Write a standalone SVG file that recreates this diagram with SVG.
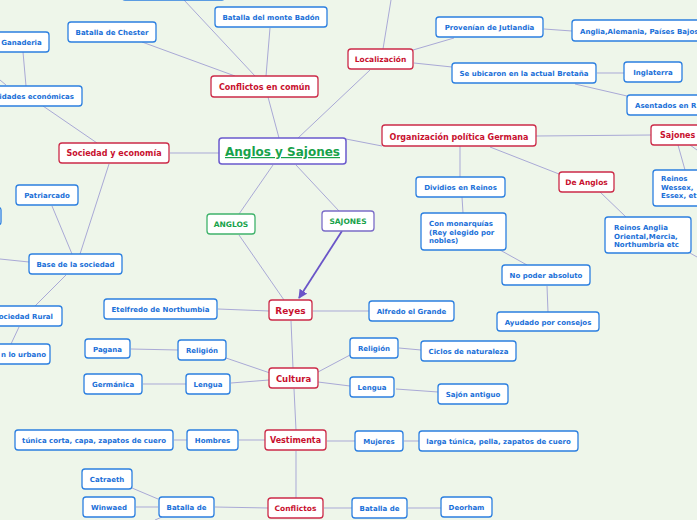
<svg xmlns="http://www.w3.org/2000/svg" width="697" height="520" viewBox="0 0 697 520">
<defs>
<style>
.bg{fill:#eef6ea}
.b rect{fill:#fff;stroke:#2b7fe0;stroke-width:1.3}
.r rect{fill:#fff;stroke:#cc2a48;stroke-width:1.3}
.b text{fill:#1a6fd8;font-family:"DejaVu Sans",Verdana,sans-serif;font-weight:bold;font-size:7px;text-anchor:middle}
.r text{fill:#c8102e;font-family:"DejaVu Sans",Verdana,sans-serif;font-weight:bold;font-size:8px;text-anchor:middle}
.g text{fill:#17a24a;font-family:"DejaVu Sans",Verdana,sans-serif;font-weight:bold;font-size:7.5px;text-anchor:middle}
.l{text-anchor:start !important}
.e{text-anchor:end !important}
#conn line{stroke:#a9a9d6;stroke-width:1;fill:none}
</style>
<marker id="arr" viewBox="0 0 10 10" refX="9" refY="5" markerWidth="5" markerHeight="5" orient="auto"><path d="M0,0 L10,5 L0,10 z" fill="#6a55c8"/></marker>
</defs>
<rect class="bg" x="0" y="0" width="697" height="520"/>
<g id="conn">
<line x1="184" y1="0" x2="255" y2="76"/>
<line x1="391" y1="0" x2="383" y2="49"/>
<line x1="270" y1="28" x2="266" y2="76"/>
<line x1="142" y1="42" x2="235" y2="76"/>
<line x1="268" y1="97" x2="279" y2="138"/>
<line x1="298" y1="138" x2="370" y2="70"/>
<line x1="23" y1="52" x2="26" y2="86"/>
<line x1="0" y1="80" x2="6" y2="85"/>
<line x1="43" y1="106" x2="97" y2="143"/>
<line x1="170" y1="153" x2="219" y2="153"/>
<line x1="52" y1="206" x2="72" y2="254"/>
<line x1="109" y1="164" x2="80" y2="254"/>
<line x1="0" y1="259" x2="29" y2="262"/>
<line x1="66" y1="275" x2="35" y2="306"/>
<line x1="19" y1="327" x2="11" y2="344"/>
<line x1="273" y1="165" x2="239" y2="214"/>
<line x1="296" y1="165" x2="339" y2="211"/>
<line x1="239" y1="235" x2="284" y2="300"/>
<line x1="218" y1="309" x2="269" y2="311"/>
<line x1="313" y1="311" x2="369" y2="311"/>
<line x1="291" y1="321" x2="293" y2="368"/>
<line x1="226" y1="358" x2="270" y2="373"/>
<line x1="131" y1="349" x2="178" y2="350"/>
<line x1="231" y1="383" x2="269" y2="380"/>
<line x1="186" y1="384" x2="143" y2="384"/>
<line x1="318" y1="372" x2="350" y2="355"/>
<line x1="399" y1="348" x2="421" y2="350"/>
<line x1="318" y1="382" x2="350" y2="386"/>
<line x1="396" y1="389" x2="438" y2="392"/>
<line x1="294" y1="389" x2="296" y2="430"/>
<line x1="265" y1="440" x2="239" y2="440"/>
<line x1="187" y1="440" x2="174" y2="440"/>
<line x1="327" y1="441" x2="355" y2="441"/>
<line x1="404" y1="441" x2="419" y2="441"/>
<line x1="296" y1="451" x2="296" y2="498"/>
<line x1="268" y1="508" x2="215" y2="507"/>
<line x1="158" y1="499" x2="132" y2="488"/>
<line x1="158" y1="507" x2="136" y2="507"/>
<line x1="162" y1="517" x2="155" y2="520"/>
<line x1="324" y1="508" x2="352" y2="508"/>
<line x1="408" y1="508" x2="441" y2="508"/>
<line x1="413" y1="50" x2="454" y2="38"/>
<line x1="544" y1="29" x2="572" y2="31"/>
<line x1="414" y1="63" x2="452" y2="67"/>
<line x1="597" y1="73" x2="624" y2="73"/>
<line x1="575" y1="84" x2="627" y2="96"/>
<line x1="346" y1="139" x2="382" y2="146"/>
<line x1="536" y1="136" x2="651" y2="135"/>
<line x1="678" y1="145" x2="685" y2="170"/>
<line x1="690" y1="145" x2="697" y2="150"/>
<line x1="460" y1="146" x2="460" y2="177"/>
<line x1="462" y1="197" x2="463" y2="213"/>
<line x1="500" y1="250" x2="527" y2="265"/>
<line x1="547" y1="286" x2="548" y2="312"/>
<line x1="490" y1="147" x2="559" y2="174"/>
<line x1="600" y1="192" x2="626" y2="217"/>
<line x1="690" y1="253" x2="697" y2="257"/>
<line x1="342" y1="231" x2="299" y2="298" style="stroke:#6a55c8;stroke-width:1.8" marker-end="url(#arr)"/>
</g>
<g id="center" class="g"><rect x="219" y="138" width="127" height="26" rx="3" fill="#fff" stroke="#6a5acd" stroke-width="1.5"/><text x="282.5" y="156" style="font-size:12px;text-decoration:underline">Anglos y Sajones</text></g>
<g id="conflictos-comun" class="r"><rect x="211" y="76" width="107" height="21" rx="3"/><text x="264.5" y="90">Conflictos en común</text></g>
<g id="badon" class="b"><rect x="215" y="7" width="112" height="20" rx="3"/><text x="271" y="20">Batalla del monte Badón</text></g>
<g id="chester" class="b"><rect x="68" y="22" width="88" height="20" rx="3"/><text x="112" y="35">Batalla de Chester</text></g>
<g id="top-offscreen" class="b"><rect x="122" y="-20" width="103" height="20" rx="3"/></g>
<g id="ganaderia" class="b"><rect x="-15" y="32" width="64" height="20" rx="3"/><text x="21.5" y="45">Ganaderia</text></g>
<g id="actividades" class="b"><rect x="-40" y="86" width="122" height="20" rx="3"/><text class="e" x="74" y="99">idades económicas</text></g>
<g id="sociedad" class="r"><rect x="59" y="143" width="110" height="20" rx="3"/><text x="114" y="156">Sociedad y economía</text></g>
<g id="patriarcado" class="b"><rect x="16" y="185" width="62" height="20" rx="3"/><text x="47" y="198">Patriarcado</text></g>
<g id="base" class="b"><rect x="29" y="254" width="93" height="20" rx="3"/><text x="75.5" y="267">Base de la sociedad</text></g>
<g id="left-box" class="b"><rect x="-40" y="207" width="41" height="18" rx="3"/></g>
<g id="sociedad-rural" class="b"><rect x="-30" y="306" width="92" height="20" rx="3"/><text class="e" x="53" y="319">ociedad Rural</text></g>
<g id="urbano" class="b"><rect x="-60" y="344" width="110" height="20" rx="3"/><text class="l" x="1" y="357">n lo urbano</text></g>
<g id="anglos" class="g"><rect x="207" y="214" width="48" height="20" rx="3" fill="#fff" stroke="#3fb36b" stroke-width="1.3"/><text x="231" y="227">ANGLOS</text></g>
<g id="sajones" class="g"><rect x="322" y="211" width="52" height="20" rx="3" fill="#fff" stroke="#7b6cc8" stroke-width="1.3"/><text x="348" y="224">SAJONES</text></g>
<g id="reyes" class="r"><rect x="269" y="300" width="43" height="20" rx="3"/><text x="290.5" y="313.5" style="font-size:9px">Reyes</text></g>
<g id="etelfredo" class="b"><rect x="104" y="299" width="113" height="20" rx="3"/><text x="160.5" y="312">Etelfredo de Northumbia</text></g>
<g id="alfredo" class="b"><rect x="369" y="301" width="85" height="20" rx="3"/><text x="411.5" y="314">Alfredo el Grande</text></g>
<g id="cultura" class="r"><rect x="269" y="368" width="49" height="20" rx="3"/><text x="293.5" y="381.5" style="font-size:8.5px">Cultura</text></g>
<g id="religion-l" class="b"><rect x="178" y="340" width="48" height="20" rx="3"/><text x="202" y="353">Religión</text></g>
<g id="pagana" class="b"><rect x="85" y="339" width="45" height="19" rx="3"/><text x="107.5" y="351.5">Pagana</text></g>
<g id="lengua-l" class="b"><rect x="186" y="374" width="44" height="20" rx="3"/><text x="208" y="387">Lengua</text></g>
<g id="germanica" class="b"><rect x="84" y="374" width="58" height="20" rx="3"/><text x="113" y="387">Germánica</text></g>
<g id="religion-r" class="b"><rect x="350" y="338" width="48" height="20" rx="3"/><text x="374" y="351">Religión</text></g>
<g id="ciclos" class="b"><rect x="421" y="341" width="95" height="20" rx="3"/><text x="468.5" y="354">Ciclos de naturaleza</text></g>
<g id="lengua-r" class="b"><rect x="350" y="377" width="44" height="20" rx="3"/><text x="372" y="390">Lengua</text></g>
<g id="sajon-antiguo" class="b"><rect x="438" y="384" width="70" height="20" rx="3"/><text x="473" y="397">Sajón antiguo</text></g>
<g id="vestimenta" class="r"><rect x="265" y="430" width="61" height="20" rx="3"/><text x="295.5" y="443">Vestimenta</text></g>
<g id="hombres" class="b"><rect x="187" y="430" width="51" height="20" rx="3"/><text x="212.5" y="443">Hombres</text></g>
<g id="tunica-corta" class="b"><rect x="15" y="430" width="158" height="20" rx="3"/><text x="94" y="443">túnica corta, capa, zapatos de cuero</text></g>
<g id="mujeres" class="b"><rect x="355" y="431" width="48" height="20" rx="3"/><text x="379" y="444">Mujeres</text></g>
<g id="larga-tunica" class="b"><rect x="419" y="431" width="159" height="20" rx="3"/><text x="498.5" y="444">larga túnica, pella, zapatos de cuero</text></g>
<g id="conflictos" class="r"><rect x="268" y="498" width="55" height="20" rx="3"/><text x="295.5" y="511" style="font-size:7.5px">Conflictos</text></g>
<g id="batalla-l" class="b"><rect x="159" y="497" width="55" height="20" rx="3"/><text x="186.5" y="510">Batalla de</text></g>
<g id="catraeth" class="b"><rect x="82" y="469" width="50" height="20" rx="3"/><text x="107" y="482">Catraeth</text></g>
<g id="winwaed" class="b"><rect x="83" y="497" width="52" height="20" rx="3"/><text x="109" y="510">Winwaed</text></g>
<g id="batalla-r" class="b"><rect x="352" y="498" width="55" height="20" rx="3"/><text x="379.5" y="511">Batalla de</text></g>
<g id="deorham" class="b"><rect x="441" y="497" width="51" height="20" rx="3"/><text x="466.5" y="510">Deorham</text></g>
<g id="localizacion" class="r"><rect x="348" y="49" width="65" height="20" rx="3"/><text x="380.5" y="62" style="font-size:7.5px">Localización</text></g>
<g id="jutlandia" class="b"><rect x="436" y="17" width="107" height="20" rx="3"/><text x="489.5" y="30">Provenían de Jutlandia</text></g>
<g id="anglia" class="b"><rect x="572" y="20" width="140" height="21" rx="3"/><text class="l" x="580" y="34">Anglia,Alemania, Países Bajos</text></g>
<g id="bretana" class="b"><rect x="452" y="63" width="144" height="20" rx="3"/><text x="524" y="76">Se ubicaron en la actual Bretaña</text></g>
<g id="inglaterra" class="b"><rect x="624" y="62" width="58" height="20" rx="3"/><text x="653" y="75">Inglaterra</text></g>
<g id="asentados" class="b"><rect x="627" y="95" width="100" height="20" rx="3"/><text class="l" x="635" y="108">Asentados en R</text></g>
<g id="org" class="r"><rect x="382" y="125" width="154" height="21" rx="3"/><text x="459" y="139.5" style="font-size:8px">Organización política Germana</text></g>
<g id="sajones-r" class="r"><rect x="651" y="125" width="60" height="20" rx="3"/><text class="l" x="660" y="138">Sajones</text></g>
<g id="reinos-wessex" class="b"><rect x="653" y="170" width="60" height="36" rx="3"/><text class="l" x="661" y="181">Reinos</text><text class="l" x="661" y="189.5">Wessex,</text><text class="l" x="661" y="198">Essex, et</text></g>
<g id="dividios" class="b"><rect x="416" y="177" width="89" height="20" rx="3"/><text x="460.5" y="190">Dividios en Reinos</text></g>
<g id="monarquias" class="b"><rect x="421" y="213" width="85" height="37" rx="3"/><text class="l" x="429" y="226">Con monarquías</text><text class="l" x="429" y="234.5">(Rey elegido por</text><text class="l" x="429" y="243">nobles)</text></g>
<g id="no-poder" class="b"><rect x="502" y="265" width="88" height="20" rx="3"/><text x="546" y="278">No poder absoluto</text></g>
<g id="ayudado" class="b"><rect x="497" y="312" width="102" height="19" rx="3"/><text x="548" y="324.5">Ayudado por consejos</text></g>
<g id="de-anglos" class="r"><rect x="559" y="172" width="55" height="20" rx="3"/><text x="586.5" y="185" style="font-size:7.5px">De Anglos</text></g>
<g id="reinos-anglia" class="b"><rect x="605" y="217" width="86" height="36" rx="3"/><text class="l" x="614" y="230">Reinos Anglia</text><text class="l" x="614" y="238.5">Oriental,Mercia,</text><text class="l" x="614" y="247">Northumbria etc</text></g>
</svg>
